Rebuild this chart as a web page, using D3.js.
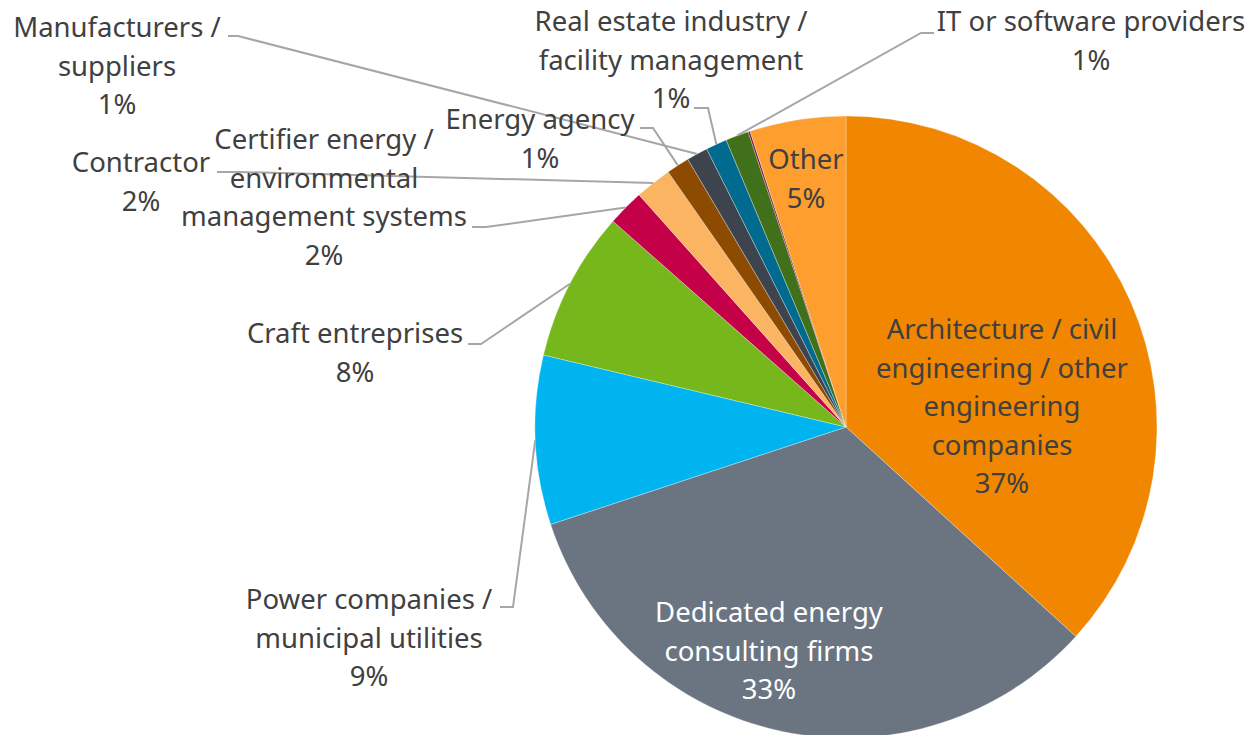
<!DOCTYPE html>
<html>
<head>
<meta charset="utf-8">
<script src="https://cdn.jsdelivr.net/npm/d3@7"></script>
<style>
  body { margin: 0; background: #fff; }
  svg text { font-family: "Noto Sans", "Open Sans", sans-serif; }
</style>
</head>
<body>
<div id="container"></div>
<script>
// slices, clockwise from 12 o'clock (in %)
const categories = [
  "Architecture / civil\nengineering / other\nengineering\ncompanies",
  "Dedicated energy\nconsulting firms",
  "Power companies /\nmunicipal utilities",
  "Craft entreprises",
  "Certifier energy /\nenvironmental\nmanagement systems",
  "Contractor",
  "Energy agency",
  "Manufacturers /\nsuppliers",
  "Real estate industry /\nfacility management",
  "IT or software providers",
  "",
  "Other"
];
const shares = [36.8, 33.2, 8.8, 7.8, 1.9, 1.9, 1.2, 1.1, 1.1, 1.2, 0.1, 5.0];
const colors = [
  "#f18700", "#6b7581", "#00b5ef", "#76b81b", "#c40048", "#fbb462",
  "#8c4b00", "#3e444d", "#006b8e", "#40701a", "#7d1040", "#fd9e2f"
];

const w = 1251;
const h = 735;
const cx = 846;
const cy = 427;
const radius = 311;
const lineH = 38.5;
const fontSize = 27.5;

// label placement: text centre x, first baseline y, leader elbow and leader end
const labelLayout = [
  { inside: true, x: 1002, y: 339, fill: "#404040" },
  { inside: true, x: 769, y: 622, fill: "#ffffff" },
  { x: 369, y: 609, elbow: [513, 607], end: [500, 607] },
  { x: 355, y: 343, elbow: [481, 344], end: [468, 344] },
  { x: 324, y: 149, elbow: [486, 227], end: [472, 227] },
  { x: 141, y: 172, elbow: [240, 172], end: [217, 172] },
  { x: 540, y: 129, elbow: [653, 128], end: [640, 128] },
  { x: 117, y: 37, elbow: [238, 36], end: [228, 36] },
  { x: 671, y: 31, elbow: [708, 108], end: [694, 108] },
  { x: 1091, y: 31, elbow: [921, 33], end: [934, 33] },
  null,
  { inside: true, x: 806, y: 169, fill: "#404040" }
];

const data = categories.map((c, i) => ({ name: c, value: shares[i], color: colors[i], layout: labelLayout[i] }));
const total = d3.sum(shares);

const svg = d3.select("#container")
  .append("svg")
  .attr("width", w)
  .attr("height", h);

const pie = d3.pie()
  .sort(null)
  .value((d) => d.value);

const arc = d3.arc()
  .innerRadius(0)
  .outerRadius(radius);

const edgeArc = d3.arc()
  .innerRadius(radius)
  .outerRadius(radius);

const arcs = pie(data);

const g = svg.append("g")
  .attr("transform", "translate(" + cx + "," + cy + ")");

g.selectAll("path.slice")
  .data(arcs)
  .enter()
  .append("path")
  .attr("class", "slice")
  .attr("d", arc)
  .attr("fill", (d) => d.data.color)
  .attr("stroke", "#ffffff")
  .attr("stroke-opacity", 0.5)
  .attr("stroke-width", 0.6);

// leader lines
const withLeader = arcs.filter((d) => d.data.layout && !d.data.layout.inside);

svg.selectAll("path.leader")
  .data(withLeader)
  .enter()
  .append("path")
  .attr("class", "leader")
  .attr("d", (d) => {
    const p = edgeArc.centroid(d);
    const l = d.data.layout;
    return d3.line()([[cx + p[0], cy + p[1]], l.elbow, l.end]);
  })
  .attr("fill", "none")
  .attr("stroke", "#a6a6a6")
  .attr("stroke-width", 2);

// labels
const labelled = arcs.filter((d) => d.data.layout);

const labels = svg.selectAll("text.label")
  .data(labelled)
  .enter()
  .append("text")
  .attr("class", "label")
  .attr("text-anchor", "middle")
  .style("font-size", fontSize + "px")
  .attr("fill", (d) => d.data.layout.fill || "#404040");

labels.each(function (d) {
  const lines = d.data.name.split("\n");
  lines.push(Math.round(d.data.value / total * 100) + "%");
  const t = d3.select(this);
  lines.forEach((line, i) => {
    t.append("tspan")
      .attr("x", d.data.layout.x)
      .attr("y", d.data.layout.y + i * lineH)
      .text(line);
  });
});
</script>
</body>
</html>
